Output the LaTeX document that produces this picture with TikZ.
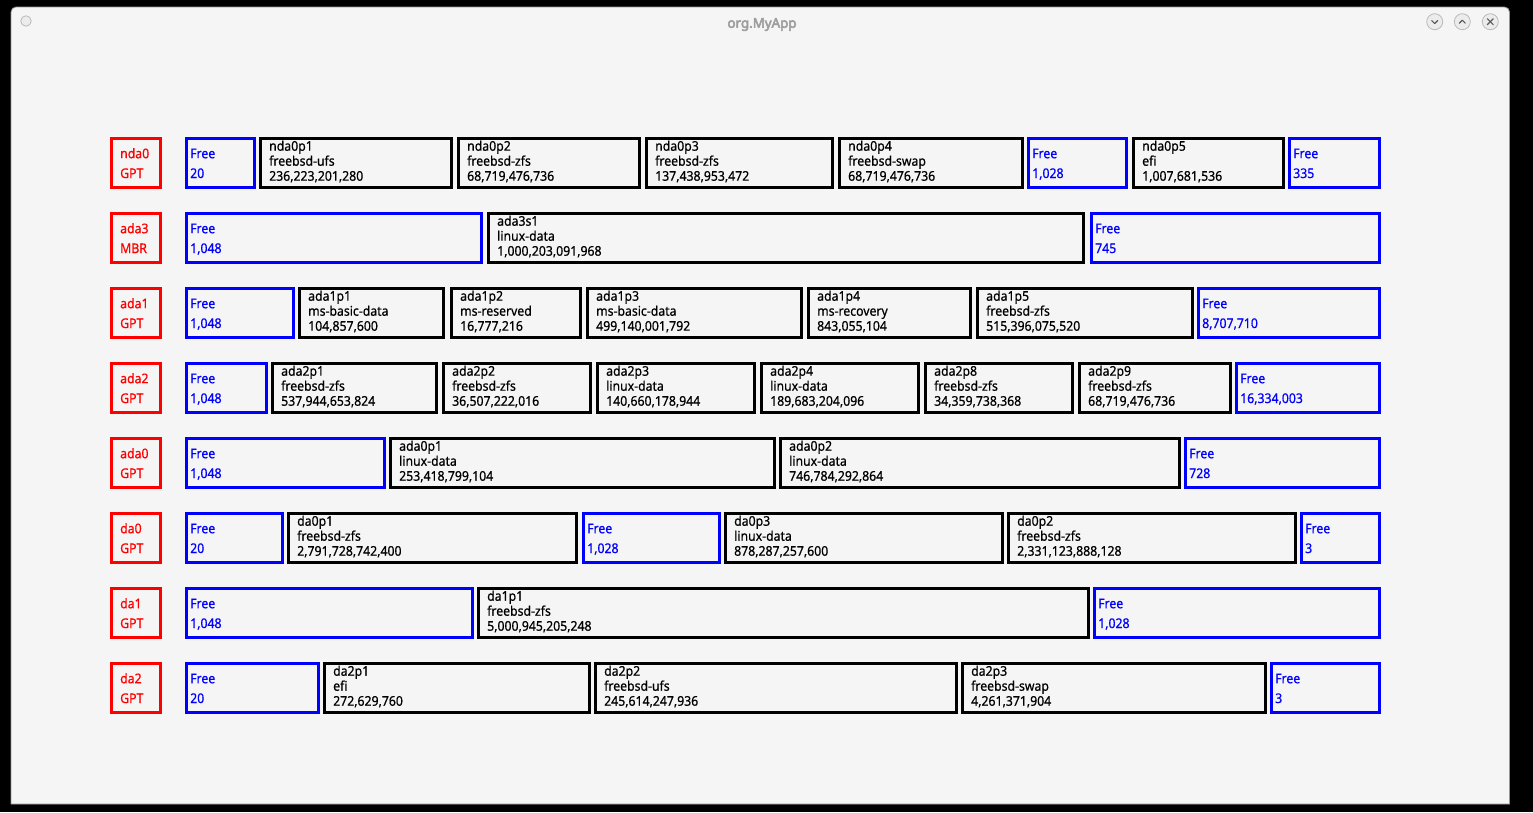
\documentclass[tikz,border=0pt]{standalone}
\usepackage{fontspec}
\setmainfont{Noto Sans}
\newfontfamily\boxfont{Noto Sans}[FakeStretch=0.92,FakeBold=0.6]
\newfontfamily\titlefont{Noto Sans}[FakeBold=4]
\definecolor{winbg}{RGB}{245,245,245}
\definecolor{winedge}{RGB}{150,150,150}
\definecolor{titlegray}{RGB}{158,158,158}
\definecolor{btnedge}{RGB}{185,185,185}
\definecolor{btnfill}{RGB}{236,236,236}
\definecolor{btnsym}{RGB}{90,90,90}
\definecolor{pblue}{RGB}{0,0,255}
\definecolor{pred}{RGB}{255,0,0}
\tikzset{
  anybox/.style={draw, line width=3pt, rectangle, inner sep=0pt, minimum height=49pt, anchor=north west},
  diskbox/.style={anybox, draw=pred},
  freebox/.style={anybox, draw=pblue},
  partbox/.style={anybox, draw=black},
  txt/.style={anchor=base west, inner sep=0pt, font=\boxfont\fontsize{13.33}{16}\selectfont},
  redtxt/.style={txt, text=pred},
  bluetxt/.style={txt, text=pblue},
  blacktxt/.style={txt, text=black},
  btn/.style={circle, draw=btnedge, fill=btnfill, line width=0.8pt, minimum size=16pt, inner sep=0pt},
  sym/.style={draw=btnsym, line width=1.1pt, line cap=round, line join=round}
}
% disk label box: name, x1, x2, ytop, line1, line2
\newcommand\dk[6]{%
  \node[diskbox, minimum width={#3-#2-3}] (#1) at (#2,#4) {};
  \node[redtxt] (#1-a) at ([xshift=10pt,yshift=-21.2pt]#1.north west) {#5};
  \node[redtxt] (#1-b) at ([xshift=10pt,yshift=-41pt]#1.north west) {#6};
}
% free space box: name, x1, x2, ytop, size
\newcommand\fr[5]{%
  \node[freebox, minimum width={#3-#2-3}] (#1) at (#2,#4) {};
  \node[bluetxt] (#1-a) at ([xshift=5pt,yshift=-21.2pt]#1.north west) {Free};
  \node[bluetxt] (#1-b) at ([xshift=5pt,yshift=-41pt]#1.north west) {#5};
}
% partition box: name, x1, x2, ytop, line1, line2, line3
\newcommand\pa[7]{%
  \node[partbox, minimum width={#3-#2-3}] (#1) at (#2,#4) {};
  \node[blacktxt] (#1-a) at ([xshift=10pt,yshift=-13.7pt]#1.north west) {#5};
  \node[blacktxt] (#1-b) at ([xshift=10pt,yshift=-28.7pt]#1.north west) {#6};
  \node[blacktxt] (#1-c) at ([xshift=10pt,yshift=-43.7pt]#1.north west) {#7};
}
\begin{document}
\begin{tikzpicture}[x=1pt,y=-1pt]
\useasboundingbox (0,0) rectangle (1533,812);
\fill[black] (0,0) rectangle (1533,812);
% window
\filldraw[fill=winbg, draw=winedge, line width=0.8pt]
  (11,804) [rounded corners=5pt] -- (11,7) -- (1509.5,7) [sharp corners] -- (1509.5,804) -- cycle;
% title bar
\node[font=\titlefont\fontsize{13.33}{16}\selectfont, text=titlegray, anchor=base, inner sep=0pt] (title) at (762,27.7) {org.MyApp};
\node[circle, draw=btnedge, fill=btnfill, line width=0.8pt, minimum size=10.5pt, inner sep=0pt] (menu) at (26,21) {};
\node[btn] (bmin) at (1434.7,21.7) {};
\node[btn] (bmax) at (1462.3,21.7) {};
\node[btn] (bclose) at (1490.3,21.7) {};
\draw[sym] ([xshift=-3pt,yshift=1.2pt]bmin.center) -- ([yshift=-1.8pt]bmin.center) -- ([xshift=3pt,yshift=1.2pt]bmin.center);
\draw[sym] ([xshift=-3pt,yshift=-1.5pt]bmax.center) -- ([yshift=1.5pt]bmax.center) -- ([xshift=3pt,yshift=-1.5pt]bmax.center);
\draw[sym] ([xshift=-3pt,yshift=-3pt]bclose.center) -- ([xshift=3pt,yshift=3pt]bclose.center);
\draw[sym] ([xshift=-3pt,yshift=3pt]bclose.center) -- ([xshift=3pt,yshift=-3pt]bclose.center);
% row 1
\dk{nda0}{110}{162}{137}{nda0}{GPT}
\fr{nda0fa}{185}{256}{137}{20}
\pa{nda0p1}{259}{453}{137}{nda0p1}{freebsd-ufs}{236,223,201,280}
\pa{nda0p2}{457}{641}{137}{nda0p2}{freebsd-zfs}{68,719,476,736}
\pa{nda0p3}{645}{834}{137}{nda0p3}{freebsd-zfs}{137,438,953,472}
\pa{nda0p4}{838}{1024}{137}{nda0p4}{freebsd-swap}{68,719,476,736}
\fr{nda0fb}{1027}{1128}{137}{1,028}
\pa{nda0p5}{1132}{1285}{137}{nda0p5}{efi}{1,007,681,536}
\fr{nda0fc}{1288}{1381}{137}{335}
% row 2
\dk{ada3}{110}{162}{212}{ada3}{MBR}
\fr{ada3fa}{185}{483}{212}{1,048}
\pa{ada3s1}{487}{1085}{212}{ada3s1}{linux-data}{1,000,203,091,968}
\fr{ada3fb}{1090}{1381}{212}{745}
% row 3
\dk{ada1}{110}{162}{287}{ada1}{GPT}
\fr{ada1fa}{185}{295}{287}{1,048}
\pa{ada1p1}{298}{445}{287}{ada1p1}{ms-basic-data}{104,857,600}
\pa{ada1p2}{450}{582}{287}{ada1p2}{ms-reserved}{16,777,216}
\pa{ada1p3}{586}{803}{287}{ada1p3}{ms-basic-data}{499,140,001,792}
\pa{ada1p4}{807}{972}{287}{ada1p4}{ms-recovery}{843,055,104}
\pa{ada1p5}{976}{1194}{287}{ada1p5}{freebsd-zfs}{515,396,075,520}
\fr{ada1fb}{1197}{1381}{287}{8,707,710}
% row 4
\dk{ada2}{110}{162}{362}{ada2}{GPT}
\fr{ada2fa}{185}{268}{362}{1,048}
\pa{ada2p1}{271}{438}{362}{ada2p1}{freebsd-zfs}{537,944,653,824}
\pa{ada2p2}{442}{592}{362}{ada2p2}{freebsd-zfs}{36,507,222,016}
\pa{ada2p3}{596}{756}{362}{ada2p3}{linux-data}{140,660,178,944}
\pa{ada2p4}{760}{920}{362}{ada2p4}{linux-data}{189,683,204,096}
\pa{ada2p8}{924}{1074}{362}{ada2p8}{freebsd-zfs}{34,359,738,368}
\pa{ada2p9}{1078}{1232}{362}{ada2p9}{freebsd-zfs}{68,719,476,736}
\fr{ada2fb}{1235}{1381}{362}{16,334,003}
% row 5
\dk{ada0}{110}{162}{437}{ada0}{GPT}
\fr{ada0fa}{185}{386}{437}{1,048}
\pa{ada0p1}{389}{776}{437}{ada0p1}{linux-data}{253,418,799,104}
\pa{ada0p2}{779}{1181}{437}{ada0p2}{linux-data}{746,784,292,864}
\fr{ada0fb}{1184}{1381}{437}{728}
% row 6
\dk{da0}{110}{162}{512}{da0}{GPT}
\fr{da0fa}{185}{284}{512}{20}
\pa{da0p1}{287}{578}{512}{da0p1}{freebsd-zfs}{2,791,728,742,400}
\fr{da0fb}{582}{721}{512}{1,028}
\pa{da0p3}{724}{1004}{512}{da0p3}{linux-data}{878,287,257,600}
\pa{da0p2}{1007}{1297}{512}{da0p2}{freebsd-zfs}{2,331,123,888,128}
\fr{da0fc}{1300}{1381}{512}{3}
% row 7
\dk{da1}{110}{162}{587}{da1}{GPT}
\fr{da1fa}{185}{474}{587}{1,048}
\pa{da1p1}{477}{1090}{587}{da1p1}{freebsd-zfs}{5,000,945,205,248}
\fr{da1fb}{1093}{1381}{587}{1,028}
% row 8
\dk{da2}{110}{162}{662}{da2}{GPT}
\fr{da2fa}{185}{320}{662}{20}
\pa{da2p1}{323}{591}{662}{da2p1}{efi}{272,629,760}
\pa{da2p2}{594}{958}{662}{da2p2}{freebsd-ufs}{245,614,247,936}
\pa{da2p3}{961}{1267}{662}{da2p3}{freebsd-swap}{4,261,371,904}
\fr{da2fb}{1270}{1381}{662}{3}
\end{tikzpicture}
\end{document}
